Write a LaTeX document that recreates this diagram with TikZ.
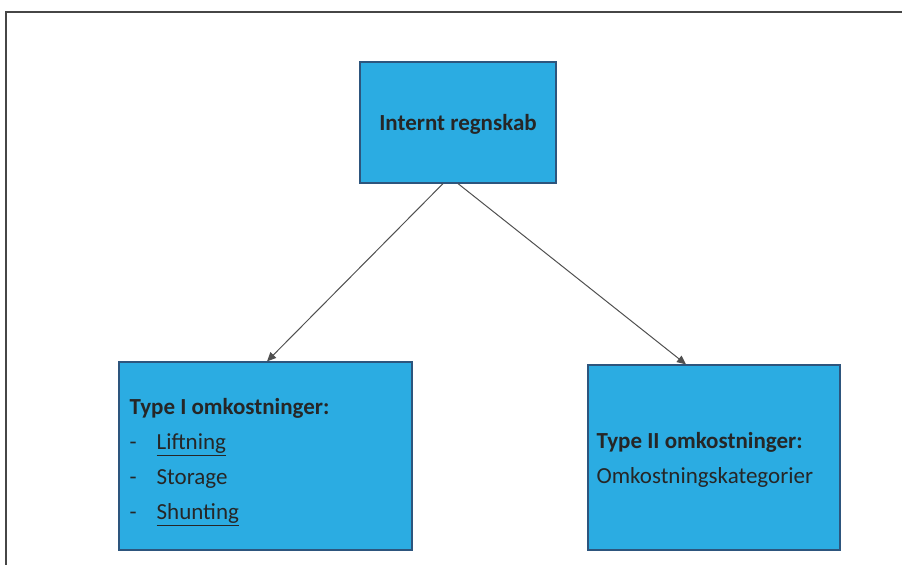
\documentclass[tikz,border=0pt]{standalone}
\usepackage{fontspec}
\setmainfont{Carlito}
\usetikzlibrary{arrows.meta}
\definecolor{boxfill}{RGB}{43,172,226}
\definecolor{boxline}{RGB}{45,85,125}
\definecolor{frameline}{RGB}{70,70,70}
\definecolor{arrline}{RGB}{80,80,80}
\tikzset{
  box/.style={draw=boxline, line width=1.2pt, fill=boxfill, rectangle, inner sep=0pt},
  arr/.style={draw=arrline, line width=1pt, -{Triangle[length=9pt,width=8pt]}},
  txt/.style={inner sep=0pt, font=\fontsize{23}{35}\selectfont, text=black!85},
}
\begin{document}
\begin{tikzpicture}[x=1pt,y=1pt]
\useasboundingbox (0,0) rectangle (902,565);
% frame
\draw[frameline, line width=2pt] (902,553) -- (5.5,553) -- (5.5,0);
% boxes
\node[box, minimum width=196pt, minimum height=121pt] (top) at (458,442.5) {};
\node[box, minimum width=293pt, minimum height=188pt] (left) at (265.5,109) {};
\node[box, minimum width=252pt, minimum height=185pt] (right) at (714,107.5) {};
% texts
\node[txt, font=\fontsize{23}{35}\selectfont\bfseries] (toptext) at ([yshift=-2pt]top.center) {Internt regnskab};
\node[txt, anchor=west, align=left] (lefttext) at ([xshift=11pt,yshift=-6pt]left.west)
  {\textbf{Type I omkostninger:}\\
   -\hspace{20pt}\underline{Liftning}\\
   -\hspace{20pt}Storage\\
   -\hspace{20pt}\underline{Shunting}};
\node[txt, anchor=west, align=left] (righttext) at ([xshift=9pt,yshift=-2pt]right.west)
  {\textbf{Type II omkostninger:}\\
   Omkostningskategorier};
% arrows
\draw[arr] ([xshift=-15pt]top.south) -- ([xshift=1.5pt]left.north);
\draw[arr] (top.south) -- ([xshift=-28pt]right.north);
\end{tikzpicture}
\end{document}
